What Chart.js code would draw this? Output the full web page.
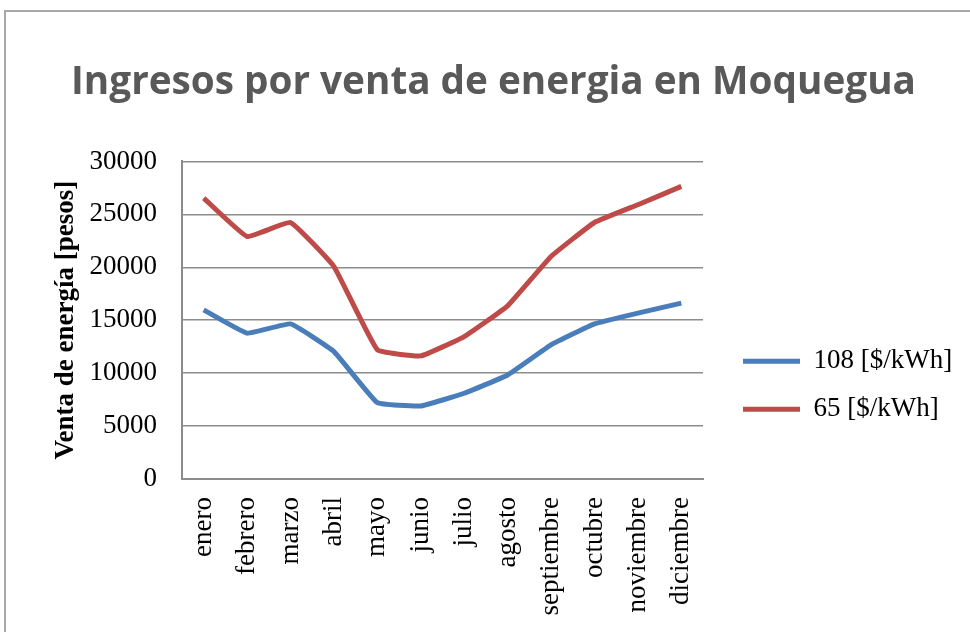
<!DOCTYPE html>
<html>
<head>
<meta charset="utf-8">
<script src="https://cdn.jsdelivr.net/npm/chart.js@4.4.1/dist/chart.umd.min.js"></script>
<style>
  html, body { margin: 0; padding: 0; background: #fff; }
  #frame { position: absolute; left: 4px; top: 10px; width: 1100px; height: 800px;
           border-left: 2px solid #a8a8a8; border-top: 2px solid #a8a8a8; }
  #wrap { position: absolute; left: 0; top: 0; width: 970px; height: 632px; }
</style>
</head>
<body>
<div id="frame"></div>
<div id="wrap"><canvas id="chart" width="970" height="632"></canvas></div>
<script>
const meses = ['enero', 'febrero', 'marzo', 'abril', 'mayo', 'junio', 'julio',
  'agosto', 'septiembre', 'octubre', 'noviembre', 'diciembre']
const tarifa108 = [15980, 13780, 14650, 12040, 7210, 6900, 8100, 9830, 12670, 14650, 15670, 16610]
const tarifa65 = [26540, 22910, 24230, 20070, 12200, 11630, 13450, 16360, 21020, 24230, 25910, 27640]
const yTicks = [0, 5000, 10000, 15000, 20000, 25000, 30000]

const serif = 'Liberation Serif'
const ctx = document.getElementById('chart')

// chart.js caps side boxes at a quarter of the width, the legend needs a bit more
const legendWidth = {
  id: 'legendWidth',
  afterInit(chart) {
    const legend = chart.legend
    const fit = legend.fit.bind(legend)
    legend.fit = () => { fit(); legend.width = 242 }
  }
}

new Chart(ctx, {
  type: 'line',
  data: {
    labels: meses,
    datasets: [{
      label: '108 [$/kWh]',
      data: tarifa108,
      borderColor: '#4a7ebb',
      backgroundColor: '#4a7ebb',
      borderWidth: 5,
      pointRadius: 0,
      tension: 0.1
    }, {
      label: '65 [$/kWh]',
      data: tarifa65,
      borderColor: '#be4b48',
      backgroundColor: '#be4b48',
      borderWidth: 5,
      pointRadius: 0,
      tension: 0.1
    }]
  },
  plugins: [legendWidth],
  options: {
    responsive: false,
    animation: false,
    layout: { padding: { left: 23, right: 6, top: 11, bottom: 12 } },
    plugins: {
      title: {
        display: true,
        text: 'Ingresos por venta de energia en Moquegua',
        color: '#595959',
        font: { family: 'Open Sans', size: 38.7, weight: 'bold' },
        padding: { top: 49, bottom: 55 }
      },
      legend: {
        position: 'right',
        title: { display: true, text: '', font: { size: 12 }, padding: { top: 0, bottom: 125 } },
        labels: {
          color: '#000',
          font: { family: serif, size: 27 },
          boxWidth: 57,
          boxHeight: 5,
          padding: 21,
          generateLabels(chart) {
            return Chart.defaults.plugins.legend.labels.generateLabels(chart)
              .map(l => ({ ...l, lineWidth: 0 }))
          }
        }
      },
      tooltip: { enabled: false }
    },
    scales: {
      x: {
        offset: true,
        grid: { display: false, drawTicks: false },
        border: { color: '#8c8c8c', width: 2 },
        ticks: {
          color: '#000',
          font: { family: serif, size: 27 },
          minRotation: 90,
          maxRotation: 90,
          padding: 18,
          autoSkip: false
        },
        afterFit(scale) { scale.height = 141 }
      },
      y: {
        min: 0,
        max: 30000,
        afterBuildTicks(scale) { scale.ticks = yTicks.map(v => ({ value: v })) },
        afterFit(scale) { scale.width = 159 },
        grid: { color: '#8c8c8c', lineWidth: 1.5, drawTicks: false },
        border: { color: '#8c8c8c', width: 2 },
        ticks: {
          color: '#000',
          font: { family: serif, size: 27 },
          padding: 25,
          callback: v => String(v)
        },
        title: {
          display: true,
          text: 'Venta de energía [pesos]',
          color: '#000',
          font: { family: serif, size: 27, weight: 'bold' },
          padding: { top: 27, bottom: 4 }
        }
      },
      yR: {
        position: 'right',
        display: true,
        grid: { display: false, drawOnChartArea: false, drawTicks: false },
        border: { display: false },
        ticks: { display: false },
        afterFit(scale) { scale.width = 19 }
      }
    }
  }
})
</script>
</body>
</html>
